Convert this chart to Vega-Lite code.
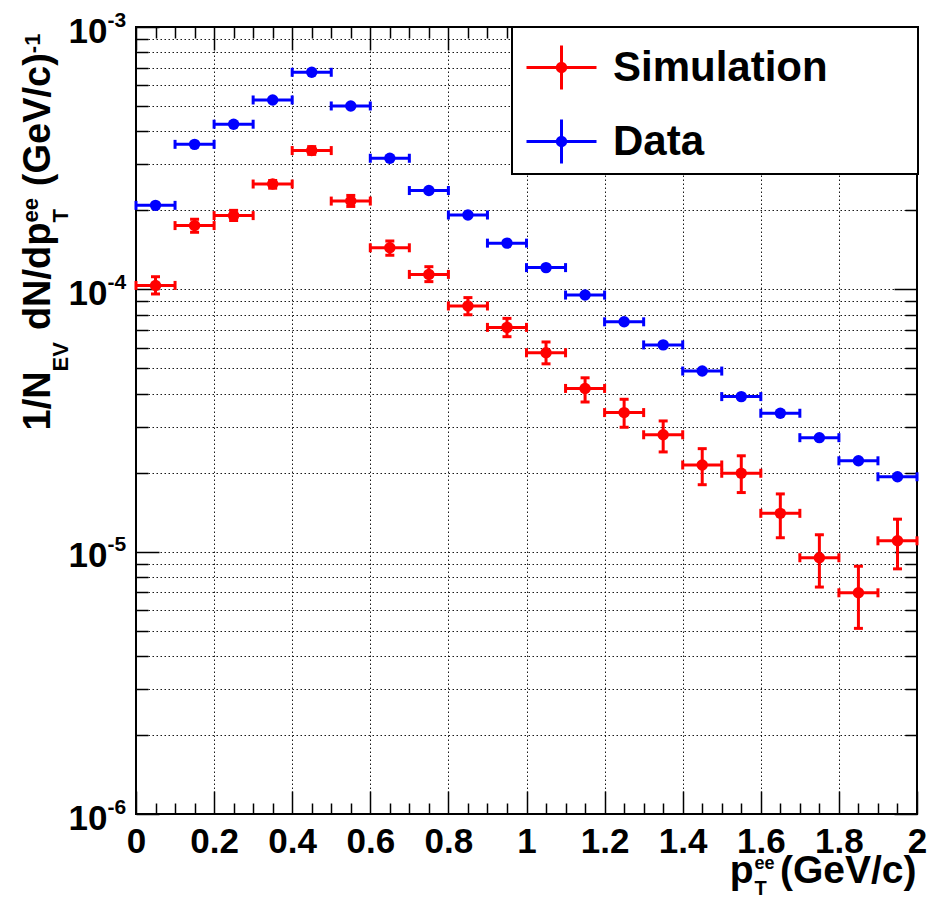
{
  "$schema": "https://vega.github.io/schema/vega-lite/v6.json",
  "width": 781,
  "height": 787,
  "autosize": {"type": "none"},
  "padding": {"left": 136, "top": 27, "right": 13, "bottom": 87},
  "background": "white",
  "config": {
    "view": {"stroke": "black", "strokeWidth": 2},
    "axis": {
      "domain": false, "grid": false, "ticks": false, "labels": false,
      "tickColor": "black", "tickWidth": 1.5,
      "labelFont": "Liberation Sans", "labelFontWeight": "bold", "labelColor": "black",
      "titleFont": "Liberation Sans", "titleFontWeight": "bold", "titleColor": "black",
      "zindex": 0, "labelOverlap": false, "labelFlush": false, "labelBound": false,
      "gridColor": "black", "gridDash": [1.5, 2.5], "gridWidth": 1, "gridOpacity": 0.9
    }
  },
  "data": {"values": [
    {"series": "Simulation", "x": 0.05, "xlo": 0.0, "xhi": 0.1, "y": 1.035e-4, "ylo": 9.6e-5, "yhi": 1.117e-4},
    {"series": "Simulation", "x": 0.15, "xlo": 0.1, "xhi": 0.2, "y": 1.75e-4, "ylo": 1.65e-4, "yhi": 1.85e-4},
    {"series": "Simulation", "x": 0.25, "xlo": 0.2, "xhi": 0.3, "y": 1.91e-4, "ylo": 1.83e-4, "yhi": 2.0e-4},
    {"series": "Simulation", "x": 0.35, "xlo": 0.3, "xhi": 0.4, "y": 2.52e-4, "ylo": 2.43e-4, "yhi": 2.6e-4},
    {"series": "Simulation", "x": 0.45, "xlo": 0.4, "xhi": 0.5, "y": 3.38e-4, "ylo": 3.27e-4, "yhi": 3.5e-4},
    {"series": "Simulation", "x": 0.55, "xlo": 0.5, "xhi": 0.6, "y": 2.17e-4, "ylo": 2.07e-4, "yhi": 2.28e-4},
    {"series": "Simulation", "x": 0.65, "xlo": 0.6, "xhi": 0.7, "y": 1.44e-4, "ylo": 1.35e-4, "yhi": 1.53e-4},
    {"series": "Simulation", "x": 0.75, "xlo": 0.7, "xhi": 0.8, "y": 1.14e-4, "ylo": 1.07e-4, "yhi": 1.22e-4},
    {"series": "Simulation", "x": 0.85, "xlo": 0.8, "xhi": 0.9, "y": 8.64e-5, "ylo": 8.0e-5, "yhi": 9.3e-5},
    {"series": "Simulation", "x": 0.95, "xlo": 0.9, "xhi": 1.0, "y": 7.16e-5, "ylo": 6.6e-5, "yhi": 7.75e-5},
    {"series": "Simulation", "x": 1.05, "xlo": 1.0, "xhi": 1.1, "y": 5.73e-5, "ylo": 5.2e-5, "yhi": 6.3e-5},
    {"series": "Simulation", "x": 1.15, "xlo": 1.1, "xhi": 1.2, "y": 4.19e-5, "ylo": 3.72e-5, "yhi": 4.6e-5},
    {"series": "Simulation", "x": 1.25, "xlo": 1.2, "xhi": 1.3, "y": 3.39e-5, "ylo": 2.98e-5, "yhi": 3.81e-5},
    {"series": "Simulation", "x": 1.35, "xlo": 1.3, "xhi": 1.4, "y": 2.79e-5, "ylo": 2.4e-5, "yhi": 3.15e-5},
    {"series": "Simulation", "x": 1.45, "xlo": 1.4, "xhi": 1.5, "y": 2.14e-5, "ylo": 1.8e-5, "yhi": 2.47e-5},
    {"series": "Simulation", "x": 1.55, "xlo": 1.5, "xhi": 1.6, "y": 1.99e-5, "ylo": 1.68e-5, "yhi": 2.32e-5},
    {"series": "Simulation", "x": 1.65, "xlo": 1.6, "xhi": 1.7, "y": 1.40e-5, "ylo": 1.13e-5, "yhi": 1.66e-5},
    {"series": "Simulation", "x": 1.75, "xlo": 1.7, "xhi": 1.8, "y": 9.48e-6, "ylo": 7.33e-6, "yhi": 1.16e-5},
    {"series": "Simulation", "x": 1.85, "xlo": 1.8, "xhi": 1.9, "y": 6.97e-6, "ylo": 5.1e-6, "yhi": 8.8e-6},
    {"series": "Simulation", "x": 1.95, "xlo": 1.9, "xhi": 2.0, "y": 1.10e-5, "ylo": 8.6e-6, "yhi": 1.33e-5},
    {"series": "Data", "x": 0.05, "xlo": 0.0, "xhi": 0.1, "y": 2.09e-4},
    {"series": "Data", "x": 0.15, "xlo": 0.1, "xhi": 0.2, "y": 3.57e-4},
    {"series": "Data", "x": 0.25, "xlo": 0.2, "xhi": 0.3, "y": 4.26e-4},
    {"series": "Data", "x": 0.35, "xlo": 0.3, "xhi": 0.4, "y": 5.27e-4},
    {"series": "Data", "x": 0.45, "xlo": 0.4, "xhi": 0.5, "y": 6.72e-4},
    {"series": "Data", "x": 0.55, "xlo": 0.5, "xhi": 0.6, "y": 5.0e-4},
    {"series": "Data", "x": 0.65, "xlo": 0.6, "xhi": 0.7, "y": 3.16e-4},
    {"series": "Data", "x": 0.75, "xlo": 0.7, "xhi": 0.8, "y": 2.38e-4},
    {"series": "Data", "x": 0.85, "xlo": 0.8, "xhi": 0.9, "y": 1.92e-4},
    {"series": "Data", "x": 0.95, "xlo": 0.9, "xhi": 1.0, "y": 1.50e-4},
    {"series": "Data", "x": 1.05, "xlo": 1.0, "xhi": 1.1, "y": 1.21e-4},
    {"series": "Data", "x": 1.15, "xlo": 1.1, "xhi": 1.2, "y": 9.51e-5},
    {"series": "Data", "x": 1.25, "xlo": 1.2, "xhi": 1.3, "y": 7.52e-5},
    {"series": "Data", "x": 1.35, "xlo": 1.3, "xhi": 1.4, "y": 6.14e-5},
    {"series": "Data", "x": 1.45, "xlo": 1.4, "xhi": 1.5, "y": 4.88e-5},
    {"series": "Data", "x": 1.55, "xlo": 1.5, "xhi": 1.6, "y": 3.90e-5},
    {"series": "Data", "x": 1.65, "xlo": 1.6, "xhi": 1.7, "y": 3.37e-5},
    {"series": "Data", "x": 1.75, "xlo": 1.7, "xhi": 1.8, "y": 2.72e-5},
    {"series": "Data", "x": 1.85, "xlo": 1.8, "xhi": 1.9, "y": 2.22e-5},
    {"series": "Data", "x": 1.95, "xlo": 1.9, "xhi": 2.0, "y": 1.93e-5}
  ]},
  "resolve": {"scale": {"x": "shared", "y": "shared", "color": "shared"}, "axis": {"x": "independent", "y": "independent"}},
  "layer": [
    {
      "mark": {"type": "rule", "strokeWidth": 3},
      "encoding": {
        "x": {"field": "xlo", "type": "quantitative", "scale": {"domain": [0, 2], "nice": false, "zero": false},
          "axis": {"orient": "bottom", "values": [0, 0.2, 0.4, 0.6, 0.8, 1, 1.2, 1.4, 1.6, 1.8, 2], "labels": true, "grid": true, "ticks": false, "tickSize": 0,
            "labelFontSize": 35, "labelPadding": 10, "labelBaseline": "top", "labelAlign": "center", "labelExpr": "'' + datum.value",
            "title": "(GeV/c)", "titleFontSize": 39, "titleX": 780, "titleY": 68, "titleAlign": "right", "titleBaseline": "alphabetic", "titleAngle": 0}},
        "x2": {"field": "xhi"},
        "y": {"field": "y", "type": "quantitative", "scale": {"type": "log", "domain": [1e-6, 1e-3], "nice": false},
          "axis": {"orient": "left", "values": [1e-6, 2e-6, 3e-6, 4e-6, 5e-6, 6e-6, 7e-6, 8e-6, 9e-6, 1e-5, 2e-5, 3e-5, 4e-5, 5e-5, 6e-5, 7e-5, 8e-5, 9e-5, 1e-4, 2e-4, 3e-4, 4e-4, 5e-4, 6e-4, 7e-4, 8e-4, 9e-4, 1e-3],
            "grid": true, "labels": false, "ticks": false,
            "title": "1/N", "titleFontSize": 38, "titleAngle": 270, "titleAlign": "left", "titleBaseline": "alphabetic", "titleX": -87, "titleY": 403}},
        "color": {"field": "series", "type": "nominal", "scale": {"domain": ["Simulation", "Data"], "range": ["#ff0000", "#0000ff"]},
          "legend": {"orient": "none", "legendX": 376, "legendY": 0, "title": null, "direction": "vertical",
            "symbolType": "M-1,0H1M0,-0.63V0.63M0.12,0A0.12,0.12,0,1,1,-0.12,0A0.12,0.12,0,1,1,0.12,0ZM9.9,0L9.9,0",
            "symbolSize": 4900, "symbolStrokeWidth": 3,
            "labelFont": "Liberation Sans", "labelFontWeight": "bold", "labelFontSize": 42, "labelColor": "black",
            "labelOffset": 15, "labelLimit": 0, "labelBaseline": "middle",
            "padding": 4, "rowPadding": 9, "symbolOffset": 9,
            "fillColor": "white", "strokeColor": "black",
            "encode": {
              "symbols": {"update": {"fill": {"scale": "color", "field": "value"}, "stroke": {"scale": "color", "field": "value"}, "strokeWidth": {"value": 3}, "opacity": {"value": 1}, "strokeCap": {"value": "butt"}}},
              "legend": {"update": {"strokeWidth": {"value": 2}}}
            }}}
      }
    },
    {
      "transform": [{"filter": "datum.ylo != null"}],
      "mark": {"type": "rule", "strokeWidth": 3},
      "encoding": {
        "x": {"field": "x", "type": "quantitative", "scale": {"domain": [0, 2], "nice": false, "zero": false},
          "axis": {"orient": "bottom", "values": [0, 0.2, 0.4, 0.6, 0.8, 1, 1.2, 1.4, 1.6, 1.8, 2], "ticks": true, "tickSize": -23,
            "title": "p", "titleFontSize": 39, "titleX": 617, "titleY": 68, "titleAlign": "right", "titleBaseline": "alphabetic", "titleAngle": 0}},
        "y": {"field": "ylo", "type": "quantitative", "scale": {"type": "log", "domain": [1e-6, 1e-3], "nice": false},
          "axis": {"orient": "left", "values": [1e-6, 1e-5, 1e-4, 1e-3], "labels": true, "labelExpr": "'10'", "labelFontSize": 35, "labelPadding": 29,
            "labelBaseline": "alphabetic", "labelOffset": 15, "labelAlign": "right", "ticks": false, "tickSize": 0,
            "title": "EV", "titleFontSize": 22, "titleAngle": 270, "titleAlign": "left", "titleBaseline": "alphabetic", "titleX": -69, "titleY": 343.9}},
        "y2": {"field": "yhi"},
        "color": {"field": "series", "type": "nominal", "scale": {"domain": ["Simulation", "Data"], "range": ["#ff0000", "#0000ff"]},
          "legend": {"orient": "none", "legendX": 376, "legendY": 0, "title": null, "direction": "vertical",
            "symbolType": "M-1,0H1M0,-0.63V0.63M0.12,0A0.12,0.12,0,1,1,-0.12,0A0.12,0.12,0,1,1,0.12,0ZM9.9,0L9.9,0",
            "symbolSize": 4900, "symbolStrokeWidth": 3,
            "labelFont": "Liberation Sans", "labelFontWeight": "bold", "labelFontSize": 42, "labelColor": "black",
            "labelOffset": 15, "labelLimit": 0, "labelBaseline": "middle",
            "padding": 4, "rowPadding": 9, "symbolOffset": 9,
            "fillColor": "white", "strokeColor": "black",
            "encode": {
              "symbols": {"update": {"fill": {"scale": "color", "field": "value"}, "stroke": {"scale": "color", "field": "value"}, "strokeWidth": {"value": 3}, "opacity": {"value": 1}, "strokeCap": {"value": "butt"}}},
              "legend": {"update": {"strokeWidth": {"value": 2}}}
            }}}
      }
    },
    {
      "mark": {"type": "tick", "orient": "vertical", "size": 9, "thickness": 3, "opacity": 1},
      "encoding": {
        "x": {"field": "xlo", "type": "quantitative", "scale": {"domain": [0, 2], "nice": false, "zero": false},
          "axis": {"orient": "bottom", "values": [0.05, 0.1, 0.15, 0.25, 0.3, 0.35, 0.45, 0.5, 0.55, 0.65, 0.7, 0.75, 0.85, 0.9, 0.95, 1.05, 1.1, 1.15, 1.25, 1.3, 1.35, 1.45, 1.5, 1.55, 1.65, 1.7, 1.75, 1.85, 1.9, 1.95],
            "ticks": true, "tickSize": -11,
            "title": "ee", "titleFontSize": 18, "titleX": 618, "titleY": 54, "titleAlign": "left", "titleBaseline": "alphabetic", "titleAngle": 0}},
        "y": {"field": "y", "type": "quantitative", "scale": {"type": "log", "domain": [1e-6, 1e-3], "nice": false},
          "axis": {"orient": "left", "values": [1e-6, 1e-5, 1e-4, 1e-3], "labels": true, "labelExpr": "'' + round(log(datum.value) / LN10)", "labelFontSize": 21, "labelPadding": 29,
            "labelAlign": "left", "labelBaseline": "alphabetic", "labelOffset": -1, "ticks": false, "tickSize": 0,
            "title": "dN/dp", "titleFontSize": 38, "titleAngle": 270, "titleAlign": "left", "titleBaseline": "alphabetic", "titleX": -87, "titleY": 302.6}},
        "color": {"field": "series", "type": "nominal", "scale": {"domain": ["Simulation", "Data"], "range": ["#ff0000", "#0000ff"]},
          "legend": {"orient": "none", "legendX": 376, "legendY": 0, "title": null, "direction": "vertical",
            "symbolType": "M-1,0H1M0,-0.63V0.63M0.12,0A0.12,0.12,0,1,1,-0.12,0A0.12,0.12,0,1,1,0.12,0ZM9.9,0L9.9,0",
            "symbolSize": 4900, "symbolStrokeWidth": 3,
            "labelFont": "Liberation Sans", "labelFontWeight": "bold", "labelFontSize": 42, "labelColor": "black",
            "labelOffset": 15, "labelLimit": 0, "labelBaseline": "middle",
            "padding": 4, "rowPadding": 9, "symbolOffset": 9,
            "fillColor": "white", "strokeColor": "black",
            "encode": {
              "symbols": {"update": {"fill": {"scale": "color", "field": "value"}, "stroke": {"scale": "color", "field": "value"}, "strokeWidth": {"value": 3}, "opacity": {"value": 1}, "strokeCap": {"value": "butt"}}},
              "legend": {"update": {"strokeWidth": {"value": 2}}}
            }}}
      }
    },
    {
      "mark": {"type": "tick", "orient": "vertical", "size": 9, "thickness": 3, "opacity": 1},
      "encoding": {
        "x": {"field": "xhi", "type": "quantitative", "scale": {"domain": [0, 2], "nice": false, "zero": false},
          "axis": {"orient": "top", "values": [0, 0.2, 0.4, 0.6, 0.8, 1, 1.2, 1.4, 1.6, 1.8, 2], "ticks": true, "tickSize": -23,
            "title": "T", "titleFontSize": 20, "titleX": 618, "titleY": 867, "titleAlign": "left", "titleBaseline": "alphabetic", "titleAngle": 0}},
        "y": {"field": "y", "type": "quantitative", "scale": {"type": "log", "domain": [1e-6, 1e-3], "nice": false},
          "axis": {"orient": "left", "values": [1e-6, 1e-5, 1e-4, 1e-3], "ticks": true, "tickSize": -23,
            "title": "T", "titleFontSize": 22, "titleAngle": 270, "titleAlign": "left", "titleBaseline": "alphabetic", "titleX": -69, "titleY": 194.9}},
        "color": {"field": "series", "type": "nominal", "scale": {"domain": ["Simulation", "Data"], "range": ["#ff0000", "#0000ff"]},
          "legend": {"orient": "none", "legendX": 376, "legendY": 0, "title": null, "direction": "vertical",
            "symbolType": "M-1,0H1M0,-0.63V0.63M0.12,0A0.12,0.12,0,1,1,-0.12,0A0.12,0.12,0,1,1,0.12,0ZM9.9,0L9.9,0",
            "symbolSize": 4900, "symbolStrokeWidth": 3,
            "labelFont": "Liberation Sans", "labelFontWeight": "bold", "labelFontSize": 42, "labelColor": "black",
            "labelOffset": 15, "labelLimit": 0, "labelBaseline": "middle",
            "padding": 4, "rowPadding": 9, "symbolOffset": 9,
            "fillColor": "white", "strokeColor": "black",
            "encode": {
              "symbols": {"update": {"fill": {"scale": "color", "field": "value"}, "stroke": {"scale": "color", "field": "value"}, "strokeWidth": {"value": 3}, "opacity": {"value": 1}, "strokeCap": {"value": "butt"}}},
              "legend": {"update": {"strokeWidth": {"value": 2}}}
            }}}
      }
    },
    {
      "transform": [{"filter": "datum.ylo != null"}],
      "mark": {"type": "tick", "orient": "horizontal", "size": 9, "thickness": 3, "opacity": 1},
      "encoding": {
        "x": {"field": "x", "type": "quantitative", "scale": {"domain": [0, 2], "nice": false, "zero": false},
          "axis": {"orient": "top", "values": [0.05, 0.1, 0.15, 0.25, 0.3, 0.35, 0.45, 0.5, 0.55, 0.65, 0.7, 0.75, 0.85, 0.9, 0.95, 1.05, 1.1, 1.15, 1.25, 1.3, 1.35, 1.45, 1.5, 1.55, 1.65, 1.7, 1.75, 1.85, 1.9, 1.95],
            "ticks": true, "tickSize": -11, "title": null}},
        "y": {"field": "ylo", "type": "quantitative", "scale": {"type": "log", "domain": [1e-6, 1e-3], "nice": false},
          "axis": {"orient": "left", "values": [2e-6, 3e-6, 4e-6, 5e-6, 6e-6, 7e-6, 8e-6, 9e-6, 2e-5, 3e-5, 4e-5, 5e-5, 6e-5, 7e-5, 8e-5, 9e-5, 2e-4, 3e-4, 4e-4, 5e-4, 6e-4, 7e-4, 8e-4, 9e-4],
            "ticks": true, "tickSize": -12,
            "title": "ee", "titleFontSize": 22, "titleAngle": 270, "titleAlign": "left", "titleBaseline": "alphabetic", "titleX": -99, "titleY": 194.9}},
        "color": {"field": "series", "type": "nominal", "scale": {"domain": ["Simulation", "Data"], "range": ["#ff0000", "#0000ff"]},
          "legend": {"orient": "none", "legendX": 376, "legendY": 0, "title": null, "direction": "vertical",
            "symbolType": "M-1,0H1M0,-0.63V0.63M0.12,0A0.12,0.12,0,1,1,-0.12,0A0.12,0.12,0,1,1,0.12,0ZM9.9,0L9.9,0",
            "symbolSize": 4900, "symbolStrokeWidth": 3,
            "labelFont": "Liberation Sans", "labelFontWeight": "bold", "labelFontSize": 42, "labelColor": "black",
            "labelOffset": 15, "labelLimit": 0, "labelBaseline": "middle",
            "padding": 4, "rowPadding": 9, "symbolOffset": 9,
            "fillColor": "white", "strokeColor": "black",
            "encode": {
              "symbols": {"update": {"fill": {"scale": "color", "field": "value"}, "stroke": {"scale": "color", "field": "value"}, "strokeWidth": {"value": 3}, "opacity": {"value": 1}, "strokeCap": {"value": "butt"}}},
              "legend": {"update": {"strokeWidth": {"value": 2}}}
            }}}
      }
    },
    {
      "transform": [{"filter": "datum.yhi != null"}],
      "mark": {"type": "tick", "orient": "horizontal", "size": 9, "thickness": 3, "opacity": 1},
      "encoding": {
        "x": {"field": "x", "type": "quantitative", "scale": {"domain": [0, 2], "nice": false, "zero": false}, "axis": null},
        "y": {"field": "yhi", "type": "quantitative", "scale": {"type": "log", "domain": [1e-6, 1e-3], "nice": false},
          "axis": {"orient": "right", "values": [1e-6, 1e-5, 1e-4, 1e-3], "ticks": true, "tickSize": -23, "title": null}},
        "color": {"field": "series", "type": "nominal", "scale": {"domain": ["Simulation", "Data"], "range": ["#ff0000", "#0000ff"]},
          "legend": {"orient": "none", "legendX": 376, "legendY": 0, "title": null, "direction": "vertical",
            "symbolType": "M-1,0H1M0,-0.63V0.63M0.12,0A0.12,0.12,0,1,1,-0.12,0A0.12,0.12,0,1,1,0.12,0ZM9.9,0L9.9,0",
            "symbolSize": 4900, "symbolStrokeWidth": 3,
            "labelFont": "Liberation Sans", "labelFontWeight": "bold", "labelFontSize": 42, "labelColor": "black",
            "labelOffset": 15, "labelLimit": 0, "labelBaseline": "middle",
            "padding": 4, "rowPadding": 9, "symbolOffset": 9,
            "fillColor": "white", "strokeColor": "black",
            "encode": {
              "symbols": {"update": {"fill": {"scale": "color", "field": "value"}, "stroke": {"scale": "color", "field": "value"}, "strokeWidth": {"value": 3}, "opacity": {"value": 1}, "strokeCap": {"value": "butt"}}},
              "legend": {"update": {"strokeWidth": {"value": 2}}}
            }}}
      }
    },
    {
      "mark": {"type": "point", "filled": true, "size": 130, "opacity": 1, "shape": "circle"},
      "encoding": {
        "x": {"field": "x", "type": "quantitative", "scale": {"domain": [0, 2], "nice": false, "zero": false}, "axis": null},
        "y": {"field": "y", "type": "quantitative", "scale": {"type": "log", "domain": [1e-6, 1e-3], "nice": false},
          "axis": {"orient": "right", "values": [2e-6, 3e-6, 4e-6, 5e-6, 6e-6, 7e-6, 8e-6, 9e-6, 2e-5, 3e-5, 4e-5, 5e-5, 6e-5, 7e-5, 8e-5, 9e-5, 2e-4, 3e-4, 4e-4, 5e-4, 6e-4, 7e-4, 8e-4, 9e-4],
            "ticks": true, "tickSize": -12, "title": null}},
        "color": {"field": "series", "type": "nominal", "scale": {"domain": ["Simulation", "Data"], "range": ["#ff0000", "#0000ff"]},
          "legend": {"orient": "none", "legendX": 376, "legendY": 0, "title": null, "direction": "vertical",
            "symbolType": "M-1,0H1M0,-0.63V0.63M0.12,0A0.12,0.12,0,1,1,-0.12,0A0.12,0.12,0,1,1,0.12,0ZM9.9,0L9.9,0",
            "symbolSize": 4900, "symbolStrokeWidth": 3,
            "labelFont": "Liberation Sans", "labelFontWeight": "bold", "labelFontSize": 42, "labelColor": "black",
            "labelOffset": 15, "labelLimit": 0, "labelBaseline": "middle",
            "padding": 4, "rowPadding": 9, "symbolOffset": 9,
            "fillColor": "white", "strokeColor": "black",
            "encode": {
              "symbols": {"update": {"fill": {"scale": "color", "field": "value"}, "stroke": {"scale": "color", "field": "value"}, "strokeWidth": {"value": 3}, "opacity": {"value": 1}, "strokeCap": {"value": "butt"}}},
              "legend": {"update": {"strokeWidth": {"value": 2}}}
            }}}
      }
    },
    {
      "mark": {"type": "point", "opacity": 0},
      "encoding": {
        "x": {"field": "x", "type": "quantitative", "scale": {"domain": [0, 2], "nice": false, "zero": false}, "axis": null},
        "y": {"field": "y", "type": "quantitative", "scale": {"type": "log", "domain": [1e-6, 1e-3], "nice": false},
          "axis": {"orient": "left", "values": [1e-3], "title": "(GeV/c)", "titleFontSize": 38, "titleAngle": 270, "titleAlign": "left", "titleBaseline": "alphabetic", "titleX": -87, "titleY": 158.7}}
      }
    },
    {
      "mark": {"type": "point", "opacity": 0},
      "encoding": {
        "x": {"field": "x", "type": "quantitative", "scale": {"domain": [0, 2], "nice": false, "zero": false}, "axis": null},
        "y": {"field": "y", "type": "quantitative", "scale": {"type": "log", "domain": [1e-6, 1e-3], "nice": false},
          "axis": {"orient": "left", "values": [1e-3], "title": "-1", "titleFontSize": 22, "titleAngle": 270, "titleAlign": "left", "titleBaseline": "alphabetic", "titleX": -97, "titleY": 25.7}}
      }
    }
  ]
}
